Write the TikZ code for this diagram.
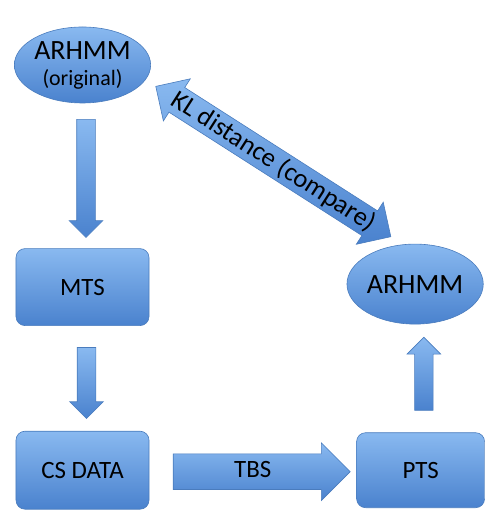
\documentclass[tikz,border=0pt]{standalone}
\usepackage{fontspec}
\setmainfont{Carlito}
\usetikzlibrary{positioning,shapes.geometric,shapes.arrows,calc}
\definecolor{arBlueTop}{HTML}{89B9F0}
\definecolor{arBlueBot}{HTML}{4A82CE}
\definecolor{arBlueLine}{HTML}{4A7CBD}

\begin{document}
\begin{tikzpicture}[x=1bp, y=1bp, every node/.style={font=\fontsize{25}{27}\selectfont, text=black},
  bluefill/.style={top color=arBlueTop, bottom color=arBlueBot, draw=arBlueLine, line width=0.6bp},
  modelnode/.style={bluefill, ellipse, inner sep=0pt, font=\fontsize{28}{30}\selectfont},
  databox/.style={bluefill, rounded corners=9bp, minimum width=133bp, minimum height=77bp},
  flowarrow/.style={bluefill, single arrow, inner sep=9bp, minimum width=33bp,
    single arrow head extend=7.5bp, single arrow tip angle=90}]
  \useasboundingbox (0,0) rectangle (485,512);

  \node[modelnode, minimum width=135bp, minimum height=76bp, align=center] (orig) at (82.5,447)
    {ARHMM\\[-4bp]{\fontsize{22}{24}\selectfont (original)}};
  \node[databox, below=145bp of orig] (mts) {MTS};
  \node[databox, below=105bp of mts, minimum height=78bp] (cs) {CS DATA};
  \node[databox, right=207bp of cs, minimum width=128bp, minimum height=75bp] (pts) {PTS};
  \node[modelnode, above=108bp of pts, xshift=-5.5bp, minimum width=113bp, minimum height=80bp] (arhmm) {ARHMM};

  % block arrows between the nodes
  \node[flowarrow, shape border rotate=270, minimum height=118bp] (a1) at ($(orig.south)!0.5!(mts.north)+(3.5,2)$) {};
  \node[flowarrow, shape border rotate=270, minimum height=71bp] (a2) at ($(mts.south)!0.5!(cs.north)+(4,0)$) {};
  \node[flowarrow, shape border rotate=90, minimum height=73bp] (a3) at ($(arhmm.south)!0.5!(pts.north)+(6,0)$) {};
  \node[flowarrow, minimum height=177bp, minimum width=57bp, single arrow head extend=11bp,
    inner xsep=0pt, inner ysep=6bp, text height=17bp, text depth=6bp] (tbs)
    at ($(cs.east)!0.5!(pts.west)+(0,-1.5)$) {TBS};
  \node[bluefill, double arrow, rotate=-32.6, minimum height=279bp, minimum width=50bp,
    double arrow head extend=10bp, double arrow tip angle=90, inner xsep=0pt, inner ysep=2bp,
    font=\fontsize{26.5}{28}\selectfont] (kl)
    at ($(orig)!0.5!(arhmm)+(24.5,13)$) {KL distance (compare)};
\end{tikzpicture}
\end{document}
